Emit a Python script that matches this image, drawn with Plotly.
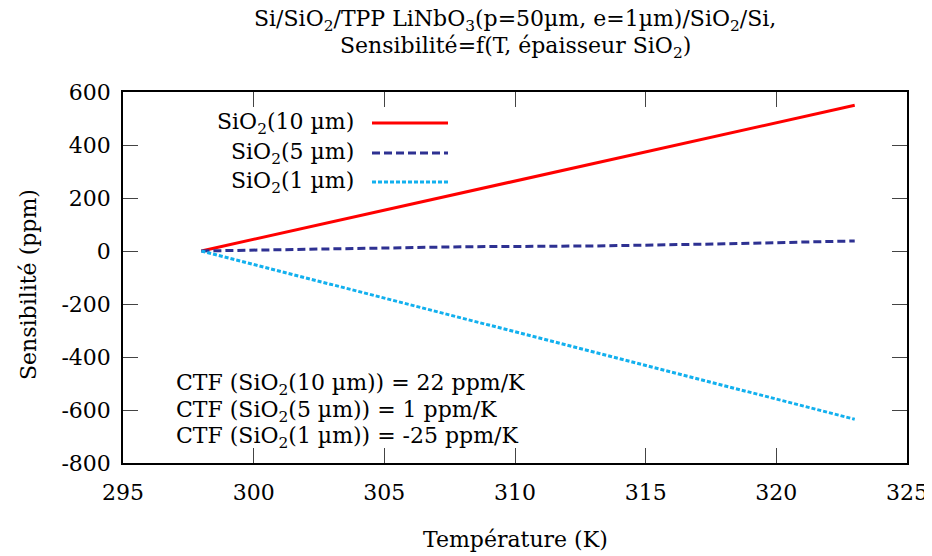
import plotly.graph_objects as go

# Data
temp_10um = [298, 323]
sens_10um = [0, 550]
temp_5um = [298, 303, 308, 313, 318, 323]
sens_5um = [0, 9, 16, 19, 27, 38]
temp_1um = [298, 323]
sens_1um = [0, -635]

series_names = ["SiO<sub>2</sub>(10 µm)", "SiO<sub>2</sub>(5 µm)", "SiO<sub>2</sub>(1 µm)"]
ctf_texts = ["CTF (SiO<sub>2</sub>(10 µm)) = 22 ppm/K",
             "CTF (SiO<sub>2</sub>(5 µm)) = 1 ppm/K",
             "CTF (SiO<sub>2</sub>(1 µm)) = -25 ppm/K"]
title_lines = ["Si/SiO<sub>2</sub>/TPP LiNbO<sub>3</sub>(p=50µm, e=1µm)/SiO<sub>2</sub>/Si,",
               "Sensibilité=f(T, épaisseur SiO<sub>2</sub>)"]
x_title = "Température (K)"
y_title = "Sensibilité (ppm)"
x_ticks = [295, 300, 305, 310, 315, 320, 325]
y_ticks = [-800, -600, -400, -200, 0, 200, 400, 600]

FONT = "DejaVu Serif"
FS = 22
colors = ["#ff0000", "#2e3192", "#12b0ee"]
dashes = ["solid", "8px,4px", "4px,2px"]

fig = go.Figure()
for xs, ys, name, c, d in zip([temp_10um, temp_5um, temp_1um],
                              [sens_10um, sens_5um, sens_1um],
                              series_names, colors, dashes):
    fig.add_trace(go.Scatter(x=xs, y=ys, mode="lines", name=name,
                             line=dict(color=c, width=3, dash=d),
                             showlegend=False))

# page geometry (page body has an 8px margin)
OFF = 8
W, H = 932, 556
L, R, T, B = 123, 25, 92, 93   # plot area in page pixels
pw, ph = W - L - R, H - T - B

def px(xp):
    return (xp - L) / pw

def py(yp):
    return 1 - (yp - T) / ph

font = dict(family=FONT, size=FS, color="black")
annotations = []
shapes = []
leg_rows = [123, 153, 182]
for name, c, d, yr in zip(series_names, colors, dashes, leg_rows):
    annotations.append(dict(x=px(356), y=py(yr), xref="paper", yref="paper",
                            text=name, showarrow=False, xanchor="right",
                            yanchor="middle", font=font))
    shapes.append(dict(type="line", xref="paper", yref="paper",
                       x0=px(372), x1=px(448), y0=py(yr), y1=py(yr),
                       line=dict(color=c, width=3, dash=d)))

ctf_rows = [384, 411, 437]
for t, yr in zip(ctf_texts, ctf_rows):
    annotations.append(dict(x=px(174), y=py(yr), xref="paper", yref="paper",
                            text=t, showarrow=False, xanchor="left",
                            yanchor="middle", font=font))

for t, yr in zip(title_lines, [21, 48]):
    annotations.append(dict(x=0.5, y=py(yr), xref="paper", yref="paper",
                            text=t, showarrow=False, xanchor="center",
                            yanchor="middle", font=font))

annotations.append(dict(x=0.5, y=py(539), xref="paper", yref="paper",
                        text=x_title, showarrow=False, xanchor="center",
                        yanchor="middle", font=font))
annotations.append(dict(x=px(28), y=py(285), xref="paper", yref="paper",
                        text=y_title, showarrow=False, xanchor="center",
                        yanchor="middle", textangle=-90, font=font))

axis_common = dict(showline=True, linecolor="black", linewidth=1.5, mirror="ticks",
                   ticks="inside", ticklen=15, tickcolor="#444", tickwidth=1,
                   showgrid=False, zeroline=False, tickfont=font)

fig.update_layout(
    width=W - OFF, height=H - OFF,
    margin=dict(l=L - OFF, r=R, t=T - OFF, b=B, autoexpand=False),
    paper_bgcolor="white", plot_bgcolor="white",
    xaxis=dict(range=[295, 325], tickvals=x_ticks, ticktext=[str(v) for v in x_ticks],
               ticklabelstandoff=9, **axis_common),
    yaxis=dict(range=[-800, 600], tickvals=y_ticks, ticktext=[str(v) for v in y_ticks],
               ticklabelstandoff=6, **axis_common),
    annotations=annotations,
    shapes=shapes,
)

fig.write_html("out.html")
